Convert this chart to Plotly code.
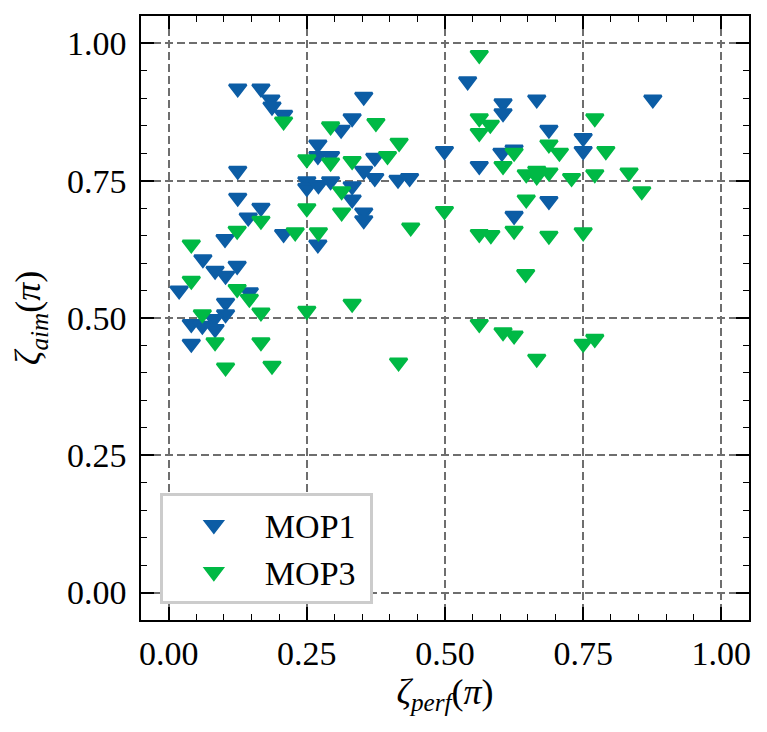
"""MOP1 / MOP3 的 ζ_perf–ζ_aim 散点图（Plotly 重绘）。"""
import plotly.graph_objects as go

# MOP1 数据点（单位 π）
mop1_perf = [
    0.125, 0.167, 0.185, 0.187, 0.208, 0.353, 0.332, 0.312, 0.270, 0.270,
    0.293, 0.373, 0.499, 0.125, 0.353, 0.373, 0.415, 0.436, 0.250, 0.250,
    0.271, 0.293, 0.332, 0.332, 0.353, 0.353, 0.125, 0.167, 0.144, 0.208,
    0.270, 0.102, 0.062, 0.084, 0.103, 0.124, 0.019, 0.146, 0.103, 0.103,
    0.041, 0.061, 0.082, 0.084, 0.041,
    0.541, 0.876, 0.666, 0.605, 0.605, 0.688, 0.750, 0.750, 0.603, 0.625,
    0.562, 0.688, 0.625,
]
mop1_aim = [
    0.918, 0.918, 0.898, 0.885, 0.870, 0.903, 0.864, 0.843, 0.816, 0.795,
    0.795, 0.792, 0.804, 0.768, 0.768, 0.755, 0.752, 0.755, 0.749, 0.737,
    0.742, 0.749, 0.740, 0.716, 0.692, 0.678, 0.719, 0.701, 0.683, 0.653,
    0.634, 0.644, 0.607, 0.586, 0.577, 0.595, 0.550, 0.547, 0.528, 0.507,
    0.489, 0.486, 0.498, 0.480, 0.453,
    0.931, 0.898, 0.898, 0.891, 0.873, 0.843, 0.828, 0.804, 0.801, 0.807,
    0.777, 0.713, 0.686,
]

# MOP3 数据点（单位 π）
mop3_perf = [
    0.208, 0.293, 0.375, 0.417, 0.250, 0.293, 0.332, 0.396, 0.313, 0.250,
    0.313, 0.167, 0.438, 0.229, 0.271, 0.124, 0.499, 0.041, 0.041, 0.124,
    0.146, 0.167, 0.250, 0.332, 0.061, 0.084, 0.167, 0.103, 0.187, 0.416,
    0.562, 0.562, 0.582, 0.562, 0.771, 0.688, 0.707, 0.791, 0.625, 0.605,
    0.647, 0.666, 0.688, 0.666, 0.729, 0.771, 0.833, 0.856, 0.647, 0.562,
    0.583, 0.625, 0.688, 0.750, 0.646, 0.562, 0.605, 0.625, 0.750, 0.771,
    0.666,
]
mop3_aim = [
    0.858, 0.849, 0.855, 0.819, 0.789, 0.783, 0.786, 0.795, 0.731, 0.700,
    0.692, 0.677, 0.665, 0.656, 0.656, 0.659, 0.695, 0.634, 0.568, 0.553,
    0.535, 0.510, 0.513, 0.526, 0.507, 0.456, 0.456, 0.410, 0.413, 0.419,
    0.979, 0.864, 0.852, 0.837, 0.864, 0.816, 0.801, 0.804, 0.801, 0.777,
    0.762, 0.768, 0.765, 0.758, 0.755, 0.762, 0.765, 0.731, 0.716, 0.653,
    0.651, 0.659, 0.650, 0.656, 0.580, 0.489, 0.474, 0.468, 0.453, 0.462,
    0.426,
]

tick_vals = [0.0, 0.25, 0.5, 0.75, 1.0]
tick_text = ["0.00", "0.25", "0.50", "0.75", "1.00"]

_BLUE = "#0C5DA5"
_GREEN = "#00B945"
_FONT = "Liberation Serif"

fig = go.Figure()

for name, xs, ys, color in (
    ("MOP1", mop1_perf, mop1_aim, _BLUE),
    ("MOP3", mop3_perf, mop3_aim, _GREEN),
):
    fig.add_trace(
        go.Scatter(
            x=xs,
            y=ys,
            mode="markers",
            name=name + "\u00a0",  # 尾部留白，让图例框更宽
            marker=dict(symbol="triangle-down", size=15, color=color,
                        line=dict(color=color, width=2.5)),
        )
    )

axis_common = dict(
    range=[-0.05, 1.05],
    tickvals=tick_vals,
    ticktext=tick_text,
    ticks="inside",
    ticklen=13,
    tickwidth=1.5,
    tickcolor="black",
    showline=True,
    linecolor="black",
    linewidth=1.6,
    mirror="allticks",
    showgrid=True,
    gridcolor="#6e6e6e",
    gridwidth=1.5,
    griddash="8px,4px",
    zeroline=False,
    minor=dict(dtick=0.05, tick0=0, ticks="inside", ticklen=6,
               tickwidth=1.2, tickcolor="black", showgrid=False),
    tickfont=dict(family=_FONT, size=34, color="black"),
)

# 页面 body 自带 8px 边距，这里把画布缩小 8px 抵消
fig.update_layout(
    width=759,
    height=724,
    autosize=False,
    margin=dict(l=133, r=18, t=6, b=112),
    paper_bgcolor="white",
    plot_bgcolor="white",
    font=dict(family=_FONT, size=34, color="black"),
    xaxis=dict(
        **axis_common,
        ticklabelstandoff=2,
        title=dict(text="<i>ζ</i><sub><i>perf</i></sub>(<i>π</i>)",
                   font=dict(family=_FONT, size=36), standoff=8),
    ),
    yaxis=dict(
        **axis_common,
        ticklabelstandoff=6,
        title=dict(text="<i>ζ</i><sub><i>aim</i></sub>(<i>π</i>)",
                   font=dict(family=_FONT, size=36), standoff=18),
    ),
    legend=dict(
        x=0.031,
        y=0.026,
        xanchor="left",
        yanchor="bottom",
        bgcolor="white",
        bordercolor="#cccccc",
        borderwidth=3,
        font=dict(family=_FONT, size=34, color="black"),
        itemwidth=92,
    ),
    showlegend=True,
)

fig.write_html("out.html")
